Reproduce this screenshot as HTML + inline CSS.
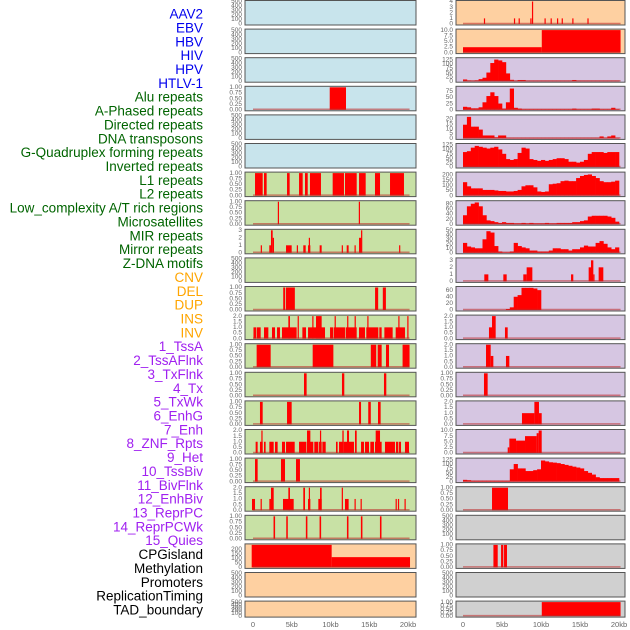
<!DOCTYPE html>
<html><head><meta charset="utf-8">
<style>
html,body{margin:0;padding:0;background:#fff;}
svg{display:block;}
text{font-family:"Liberation Sans",sans-serif;}
</style></head>
<body>
<svg id="chart" width="630" height="630" viewBox="0 0 630 630" xmlns="http://www.w3.org/2000/svg"></svg>
<script>
// ---- track labels ----
const trackLabels = ["AAV2","EBV","HBV","HIV","HPV","HTLV-1","Alu repeats","A-Phased repeats","Directed repeats","DNA transposons","G-Quadruplex forming repeats","Inverted repeats","L1 repeats","L2 repeats","Low_complexity A/T rich regions","Microsatellites","MIR repeats","Mirror repeats","Z-DNA motifs","CNV","DEL","DUP","INS","INV","1_TssA","2_TssAFlnk","3_TxFlnk","4_Tx","5_TxWk","6_EnhG","7_Enh","8_ZNF_Rpts","9_Het","10_TssBiv","11_BivFlnk","12_EnhBiv","13_ReprPC","14_ReprPCWk","15_Quies","CPGisland","Methylation","Promoters","ReplicationTiming","TAD_boundary"];
const labelGroups = [6,13,5,15,5];
const xTickValues = [0,5,10,15,20];
const xTickLabels = ["0","5kb","10kb","15kb","20kb"];
const ticks500 = [0,100,200,300,400,500];
const ticks1 = [0,0.25,0.5,0.75,1];
const ticks2 = [0,0.5,1,1.5,2];

// ---- series data: segments [startKb, endKb, value] ----
const L3 = [[9.9,12.0,1]];
const L6 = [[0.26,1.25,1],[1.42,1.76,1],[4.39,4.73,1],[5.94,6.41,1],[6.71,7.06,1],[7.35,8.77,1],[10.28,11.74,1],[11.87,13.38,1],[13.68,14.54,1],[15.74,16.39,1],[17.68,19.48,1]];
const L7 = [[3.2,3.35,1],[13.65,13.8,1]];
const L8 = [[1.0,1.1,1],[2.1,2.32,1],[2.32,2.54,3],[2.54,2.71,2],[4.26,4.99,1],[5.65,5.75,1],[6.49,6.8,1],[7.1,7.4,1],[7.2,7.3,2],[8.6,8.86,1],[11.45,11.55,1],[12.09,12.34,1],[13.1,13.2,1],[13.68,13.94,2],[13.94,14.1,3],[18.85,18.95,1]];
const L10 = [[3.9,4.15,1],[4.25,5.4,1],[15.75,16.15,1],[16.75,17.15,1]];
const L11 = [[0.06,0.39,1],[0.47,0.99,1],[1.42,1.98,1],[2.45,2.84,1],[3.1,3.48,1],[3.74,5.63,1],[4.56,4.77,2],[5.76,5.86,2],[6.37,6.84,1],[7.1,9.29,1],[7.65,7.75,2],[8.13,8.86,2],[9.94,10.37,1],[10.45,11.87,1],[10.53,10.63,2],[11.96,13.38,1],[12.15,12.25,2],[13.11,13.21,2],[13.68,14.45,1],[14.62,16.17,1],[14.75,14.85,2],[16.3,16.6,1],[16.95,18.02,1],[18.41,19.61,1],[18.75,18.85,2],[19.91,20.01,2]];
const L12 = [[0.47,2.28,1],[7.7,10.37,1],[15.2,15.9,1],[16.09,16.6,1],[17.16,17.55,1],[19.3,20.2,1]];
const L13 = [[6.58,6.92,1],[11.48,11.78,1],[16.9,17.2,1]];
const L14 = [[0.9,1.25,1],[4.39,4.99,1],[13.68,13.94,1],[14.87,15.2,1],[16.13,16.47,1]];
const L15 = [[0.34,0.6,1],[0.9,1.25,1],[1.08,1.18,2],[1.42,1.63,1],[2.11,2.67,1],[2.84,3.18,1],[3.74,4.13,1],[4.26,5.38,1],[5.94,6.84,1],[6.92,7.78,1],[6.97,7.4,2],[7.91,8.43,1],[8.52,8.86,1],[8.64,8.74,2],[8.95,9.38,1],[10.71,10.92,1],[11.1,11.57,1],[11.53,11.7,2],[11.7,13.03,1],[12.13,12.39,2],[13.16,13.38,2],[13.94,14.32,1],[14.45,14.97,1],[15.14,15.61,1],[15.74,16.6,1],[15.83,16.39,2],[17.03,18.32,1],[18.45,18.75,1],[18.84,19.1,1],[19.61,20.13,1]];
const L16 = [[0.26,0.6,1],[3.61,4.13,1],[5.55,6.06,1]];
const L17 = [[-0.13,0.26,1],[0.98,1.1,1],[2.11,2.32,1],[2.32,2.67,2],[3.87,5.25,1],[4.56,4.77,2],[6.49,6.71,2],[7.1,7.4,1],[7.2,7.35,2],[8.43,8.86,1],[8.65,8.86,2],[11.45,11.6,2],[11.87,12.34,1],[13.1,13.22,1],[13.88,14.0,1],[18.4,18.5,1],[18.7,18.8,1],[19.55,19.65,1]];
const L18 = [[2.65,2.85,1],[4.29,4.49,1],[6.82,7.02,1],[8.59,8.79,1],[12.12,12.32,1],[13.92,14.12,1],[16.38,16.58,1]];
const L19 = [[-0.17,10.15,250],[10.15,20.26,114]];

const R0 = [[2.68,2.78,1],[6.53,6.63,1],[7.13,7.23,1],[8.63,8.73,1],[8.84,8.94,4],[10.45,10.55,1],[11.23,11.33,1],[12.05,12.15,1],[12.65,12.75,1],[14.01,14.11,1],[15.95,16.05,1]];
const R1 = [[0,10.1,2.4],[10.1,20.2,10]];
const R9 = [[2.73,3.25,1],[5.17,5.6,1],[7.73,8.16,1],[8.16,8.89,2],[13.85,14.14,1],[16.11,16.41,2],[16.41,16.71,3],[16.71,16.85,1],[17.39,17.99,2]];
const R11 = [[3.33,3.72,1],[3.72,4.19,2],[5.38,5.73,1]];
const R12 = [[2.95,3.55,2],[3.55,3.89,1],[5.51,5.94,1]];
const R13 = [[2.69,3.16,1]];
const R14 = [[7.56,9.15,1],[9.15,9.74,2],[9.74,10.09,1]];
const R15 = [[5.73,5.94,2.5],[5.94,6.8,6.4],[6.8,7.95,5.5],[7.95,9.44,7.5],[9.44,9.7,8.8],[9.7,10.09,10]];
const R17 = [[3.72,5.77,1]];
const R19 = [[3.9,4.45,1],[4.88,5.17,1],[5.26,5.64,1]];
const R21 = [[10.1,20.2,1]];

// ---- series data: 0.5kb bin profiles (40 bins, 0-20kb) ----
const R2 = [10,3,2,4,12,20,50,105,125,120,110,45,8,2,7,7,2,2,2,2,2,2,2,2,2,2,2,2,7,2,2,2,2,2,2,2,2,2,2,2];
const R3 = [12,10,6,6,10,30,55,70,55,25,5,30,85,8,5,2,2,2,2,2,2,2,2,2,2,2,2,2,5,2,2,2,2,5,5,2,2,2,8,2];
const R4 = [14,22,12,12,9,3,3,3,1,3,3,0.5,0.5,0.5,0.5,0.5,0.5,0.5,0.5,0.5,0.5,0.5,0.5,0.5,0.5,0.5,0.5,0.5,0.5,0.5,0.5,0.5,0.5,0.5,0.5,2,0.5,2,3,0.5];
const R5 = [85,90,110,120,115,110,105,110,115,100,75,45,40,45,80,110,105,45,40,35,40,35,40,45,50,50,45,30,30,25,30,40,75,85,85,85,80,85,85,85];
const R6 = [130,90,70,70,70,55,55,55,50,45,45,40,40,45,55,90,100,100,80,40,35,40,110,115,120,140,145,140,140,170,190,200,205,190,170,140,130,130,135,145];
const R7 = [35,70,80,85,70,35,15,12,8,5,8,5,5,3,3,5,3,5,3,3,3,5,3,3,5,5,5,5,8,8,12,15,30,33,33,33,33,30,25,10];
const R8 = [22,14,12,10,10,30,48,45,15,3,1,1,3,22,15,12,10,5,5,3,3,3,5,10,10,8,8,5,8,8,12,16,14,14,22,26,20,12,8,12];
const R10 = [0,0,0,0,0,0,0,0,0,0,0,3,8,40,45,67,67,67,65,60,0,0,0,0,0,0,0,0,0,0,0,0,0,0,0,0,0,0,0,0];
const R16 = [10,8,5,5,5,5,5,5,5,5,5,5,70,100,75,75,60,60,65,70,120,115,110,108,105,100,95,90,85,80,75,60,50,40,25,20,20,20,20,20];

const BG = {blue:"#c8e4ec",green:"#c8e1a5",orange:"#fed0a1",purple:"#d6c6e2",grey:"#d0d0d0"};
// panel config: col,row,bg,ymax,ticks,data,kind
const panels = [
 [0,0,"blue",500,ticks500,null],[0,1,"blue",500,ticks500,null],[0,2,"blue",500,ticks500,null],
 [0,3,"blue",1,ticks1,L3],[0,4,"blue",500,ticks500,null],[0,5,"blue",500,ticks500,null],
 [0,6,"green",1,ticks1,L6],[0,7,"green",1,ticks1,L7],[0,8,"green",3,[0,1,2,3],L8],
 [0,9,"green",500,ticks500,null],[0,10,"green",1,ticks1,L10],[0,11,"green",2,ticks2,L11],
 [0,12,"green",1,ticks1,L12],[0,13,"green",1,ticks1,L13],[0,14,"green",1,ticks1,L14],
 [0,15,"green",2,ticks2,L15],[0,16,"green",1,ticks1,L16],[0,17,"green",2,ticks2,L17],
 [0,18,"green",1,ticks1,L18],[0,19,"orange",250,[0,50,100,150,200],L19],
 [0,20,"orange",500,ticks500,null],[0,21,"orange",500,ticks500,null],
 [1,0,"orange",4,[0,1,2,3,4],R0],[1,1,"orange",10,[0,2.5,5,7.5,10],R1],
 [1,2,"purple",130,[0,25,50,75,100,125],R2],[1,3,"purple",90,[0,25,50,75],R3],
 [1,4,"purple",23,[0,5,10,15,20],R4],[1,5,"purple",128,[0,25,50,75,100,125],R5],
 [1,6,"purple",218,[0,50,100,150,200],R6],[1,7,"purple",88,[0,20,40,60,80],R7],
 [1,8,"purple",50,[0,10,20,30,40,50],R8],[1,9,"purple",3.2,[0,1,2,3],R9],
 [1,10,"purple",68,[0,20,40,60],R10],[1,11,"purple",2,ticks2,R11],
 [1,12,"purple",2,ticks2,R12],[1,13,"purple",1,ticks1,R13],
 [1,14,"purple",2,ticks2,R14],[1,15,"purple",10,[0,2.5,5,7.5,10],R15],
 [1,16,"purple",128,[0,25,50,75,100,125],R16],[1,17,"grey",1,ticks1,R17],
 [1,18,"grey",500,ticks500,null],[1,19,"grey",1,ticks1,R19],
 [1,20,"grey",500,ticks500,null],[1,21,"grey",1,ticks1,R21]
];

const NS="http://www.w3.org/2000/svg";
const svg=document.getElementById('chart');
function mk(tag,attrs,parent){const e=document.createElementNS(NS,tag);for(const k in attrs)e.setAttribute(k,attrs[k]);(parent||svg).appendChild(e);return e;}
const colX=[{left:245,right:416,x0:253,sc:7.75},{left:456,right:625,x0:463,sc:7.8}];
function xScale(col,kb){return colX[col].x0+kb*colX[col].sc;}
function rowTop(r){return r*28.6+0.5;}
function rowH(r){return r===21?16:24.5;}

// labels
const groupColors=["#0000ee","#006400","#ffa500","#a020f0","#000000"];
let gi=0,cnt=0;
trackLabels.forEach((t,i)=>{
  while(cnt>=labelGroups[gi]){cnt-=labelGroups[gi];gi++;}
  cnt++;
  const e=mk('text',{x:203,y:15+i*13.86,'text-anchor':'end','dominant-baseline':'middle','font-size':'13.5',fill:groupColors[gi]});
  
  
  e.textContent=t;
});

panels.forEach(p=>{
  const [col,row,bg,ymax,ticks,data]=p;
  const c=colX[col],top=rowTop(row),h=rowH(row);
  const g=mk('g',{});
  
  
  const yS=v=>top+h-1-(v/ymax)*(h-2);
  const r=mk('rect',{x:c.left,y:top,width:c.right-c.left,height:h,fill:BG[bg]},g);
  
  
  if(data){
    if(data.length===40 && !Array.isArray(data[0])){
      data.forEach((v,i)=>{
        if(v<=0)return;
        const x1=xScale(col,i*0.5),x2=xScale(col,(i+1)*0.5);
        const b=mk('rect',{x:x1,y:yS(v),width:x2-x1+0.3,height:yS(0)-yS(v),fill:"#ff0000"},g);
        
        
      });
    } else {
      data.forEach(s=>{
        const x1=xScale(col,s[0]),x2=xScale(col,s[1]);
        const b=mk('rect',{x:x1,y:yS(s[2]),width:Math.max(1.2,x2-x1),height:yS(0)-yS(s[2]),fill:"#ff0000"},g);
        
        
      });
    }
    const bl=mk('line',{x1:xScale(col,0),x2:xScale(col,20.2),y1:top+h-1.5,y2:top+h-1.5,stroke:"rgba(190,40,40,0.55)","stroke-width":1.5},g);
    
    
  }
  const br=mk('rect',{x:c.left,y:top,width:c.right-c.left,height:h,fill:"none",stroke:"#555","stroke-width":1},g);
  
  
  ticks.forEach(t=>{
    const lbl=ymax>=100&&Number.isInteger(t)?String(t):(ticks===ticks1?t.toFixed(2):(ticks===ticks2||ymax===10?t.toFixed(1):String(t)));
    const e=mk('text',{x:c.left-3,y:yS(Math.min(t,ymax)),'text-anchor':'end','dominant-baseline':'middle','font-size':'6.5',fill:"#666"},g);
    
    
    e.textContent=lbl;
  });
});

// x axis ticks
[0,1].forEach(col=>{
  xTickValues.forEach((v,i)=>{
    const e=mk('text',{x:xScale(col,v),y:627,'text-anchor':'middle','font-size':'7.5',fill:"#666"});
    
    
    e.textContent=xTickLabels[i];
  });
});
</script>
</body></html>
